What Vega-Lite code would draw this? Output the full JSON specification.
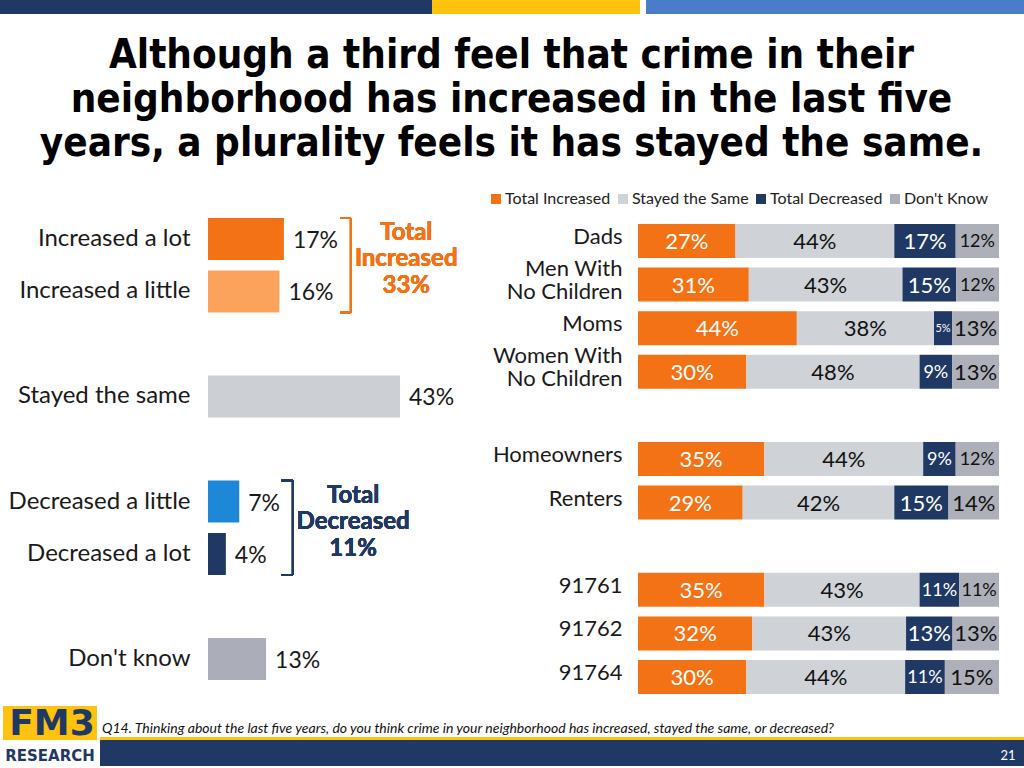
{
  "$schema": "https://vega.github.io/schema/vega-lite/v6.json",
  "padding": 0,
  "background": "white",
  "spacing": 0,
  "config": {
    "view": {"stroke": null},
    "font": "Lato",
    "axis": {"domain": false, "ticks": false, "grid": false, "labelFont": "Lato", "labelFontSize": 22, "labelColor": "#1a1a1a", "labelLimit": 220, "title": null}
  },
  "datasets": {
    "left": [
      {"cat": "Increased a lot", "pct": 0.17},
      {"cat": "Increased a little", "pct": 0.16},
      {"cat": "Stayed the same", "pct": 0.43},
      {"cat": "Decreased a little", "pct": 0.07},
      {"cat": "Decreased a lot", "pct": 0.04},
      {"cat": "Don't know", "pct": 0.13}
    ],
    "respOrder": [
      {"resp": "Total Increased", "rank": 1},
      {"resp": "Stayed the Same", "rank": 2},
      {"resp": "Total Decreased", "rank": 3},
      {"resp": "Don't Know", "rank": 4}
    ],
    "right": [
      {"group": "Dads", "resp": "Total Increased", "pct": 0.27},
      {"group": "Dads", "resp": "Stayed the Same", "pct": 0.44},
      {"group": "Dads", "resp": "Total Decreased", "pct": 0.17},
      {"group": "Dads", "resp": "Don't Know", "pct": 0.12},
      {"group": "Men With No Children", "resp": "Total Increased", "pct": 0.31},
      {"group": "Men With No Children", "resp": "Stayed the Same", "pct": 0.43},
      {"group": "Men With No Children", "resp": "Total Decreased", "pct": 0.15},
      {"group": "Men With No Children", "resp": "Don't Know", "pct": 0.12},
      {"group": "Moms", "resp": "Total Increased", "pct": 0.44},
      {"group": "Moms", "resp": "Stayed the Same", "pct": 0.38},
      {"group": "Moms", "resp": "Total Decreased", "pct": 0.05},
      {"group": "Moms", "resp": "Don't Know", "pct": 0.13},
      {"group": "Women With No Children", "resp": "Total Increased", "pct": 0.30},
      {"group": "Women With No Children", "resp": "Stayed the Same", "pct": 0.48},
      {"group": "Women With No Children", "resp": "Total Decreased", "pct": 0.09},
      {"group": "Women With No Children", "resp": "Don't Know", "pct": 0.13},
      {"group": "Homeowners", "resp": "Total Increased", "pct": 0.35},
      {"group": "Homeowners", "resp": "Stayed the Same", "pct": 0.44},
      {"group": "Homeowners", "resp": "Total Decreased", "pct": 0.09},
      {"group": "Homeowners", "resp": "Don't Know", "pct": 0.12},
      {"group": "Renters", "resp": "Total Increased", "pct": 0.29},
      {"group": "Renters", "resp": "Stayed the Same", "pct": 0.42},
      {"group": "Renters", "resp": "Total Decreased", "pct": 0.15},
      {"group": "Renters", "resp": "Don't Know", "pct": 0.14},
      {"group": "91761", "resp": "Total Increased", "pct": 0.35},
      {"group": "91761", "resp": "Stayed the Same", "pct": 0.43},
      {"group": "91761", "resp": "Total Decreased", "pct": 0.11},
      {"group": "91761", "resp": "Don't Know", "pct": 0.11},
      {"group": "91762", "resp": "Total Increased", "pct": 0.32},
      {"group": "91762", "resp": "Stayed the Same", "pct": 0.43},
      {"group": "91762", "resp": "Total Decreased", "pct": 0.13},
      {"group": "91762", "resp": "Don't Know", "pct": 0.13},
      {"group": "91764", "resp": "Total Increased", "pct": 0.30},
      {"group": "91764", "resp": "Stayed the Same", "pct": 0.44},
      {"group": "91764", "resp": "Total Decreased", "pct": 0.11},
      {"group": "91764", "resp": "Don't Know", "pct": 0.15}
    ]
  },
  "vconcat": [
    {
      "width": 816,
      "height": 36,
      "data": {"values": [{}]},
      "layer": [
        {
          "mark": {"type": "rect", "color": "#1F3864"},
          "encoding": {
            "x": {"datum": 0, "type": "quantitative", "scale": {"domain": [208, 1024], "nice": false, "zero": false}, "axis": null},
            "x2": {"datum": 432},
            "y": {"datum": 0, "type": "quantitative", "scale": {"domain": [0, 36], "reverse": true, "nice": false}, "axis": null},
            "y2": {"datum": 14}
          }
        },
        {
          "mark": {"type": "rect", "color": "#FFC20E"},
          "encoding": {
            "x": {"datum": 432, "type": "quantitative"},
            "x2": {"datum": 640},
            "y": {"datum": 0, "type": "quantitative"},
            "y2": {"datum": 14}
          }
        },
        {
          "mark": {"type": "rect", "color": "#4A7CC9"},
          "encoding": {
            "x": {"datum": 646, "type": "quantitative"},
            "x2": {"datum": 1024},
            "y": {"datum": 0, "type": "quantitative"},
            "y2": {"datum": 14}
          }
        }
      ]
    },
    {
      "title": {
        "text": ["Although a third feel that crime in their", "neighborhood has increased in the last five", "years, a plurality feels it has stayed the same."],
        "font": "DejaVu Sans Condensed",
        "fontSize": 40,
        "fontWeight": "bold",
        "color": "#000000",
        "lineHeight": 44,
        "anchor": "middle",
        "dx": 12,
        "offset": 27
      },
      "bounds": "flush",
      "spacing": 180,
      "hconcat": [
        {
          "width": 250,
          "height": 472,
          "data": {"name": "left"},
          "layer": [
            {
              "mark": {"type": "bar"},
              "encoding": {
                "y": {
                  "field": "cat", "type": "nominal",
                  "scale": {"domain": ["Increased a lot", "Increased a little", " ", "Stayed the same", "  ", "Decreased a little", "Decreased a lot", "   ", "Don't know"], "paddingInner": 0.2, "paddingOuter": 0.095},
                  "axis": {"labelPadding": 18, "labelFontSize": 24, "labelLimit": 205, "minExtent": 208, "maxExtent": 208}
                },
                "x": {"field": "pct", "type": "quantitative", "scale": {"domain": [0, 0.56], "nice": false}, "axis": null},
                "color": {
                  "field": "cat", "type": "nominal",
                  "scale": {"domain": ["Increased a lot", "Increased a little", "Stayed the same", "Decreased a little", "Decreased a lot", "Don't know"], "range": ["#F47216", "#FBA35C", "#CCCFD4", "#1E88D8", "#1F3864", "#ABADB8"]},
                  "legend": null
                }
              }
            },
            {
              "mark": {"type": "text", "align": "left", "baseline": "middle", "dx": 9, "dy": 2, "fontSize": 23, "color": "#1a1a1a"},
              "encoding": {
                "y": {"field": "cat", "type": "nominal"},
                "x": {"field": "pct", "type": "quantitative"},
                "text": {"field": "pct", "type": "quantitative", "format": ".0%"}
              }
            },
            {
              "mark": {"type": "rule", "color": "#F47216", "strokeWidth": 2},
              "encoding": {
                "x": {"datum": 0.32, "type": "quantitative"},
                "y": {"datum": "Increased a lot", "type": "nominal", "bandPosition": 0},
                "y2": {"datum": "Increased a little", "bandPosition": 1}
              }
            },
            {
              "mark": {"type": "rule", "color": "#F47216", "strokeWidth": 2},
              "encoding": {
                "x": {"datum": 0.296, "type": "quantitative"},
                "x2": {"datum": 0.32},
                "y": {"datum": "Increased a lot", "type": "nominal", "bandPosition": 0}
              }
            },
            {
              "mark": {"type": "rule", "color": "#F47216", "strokeWidth": 2},
              "encoding": {
                "x": {"datum": 0.296, "type": "quantitative"},
                "x2": {"datum": 0.32},
                "y": {"datum": "Increased a little", "type": "nominal", "bandPosition": 1}
              }
            },
            {
              "mark": {"type": "text", "align": "center", "baseline": "middle", "dy": -27, "fontSize": 24, "fontWeight": "bold", "lineHeight": 26.5, "color": "#F47216"},
              "encoding": {
                "x": {"datum": 0.444, "type": "quantitative"},
                "y": {"datum": "Increased a lot", "type": "nominal", "bandPosition": 1},
                "text": {"value": ["Total", "Increased", "33%"]}
              }
            },
            {
              "mark": {"type": "rule", "color": "#1F3864", "strokeWidth": 2},
              "encoding": {
                "x": {"datum": 0.19, "type": "quantitative"},
                "y": {"datum": "Decreased a little", "type": "nominal", "bandPosition": 0},
                "y2": {"datum": "Decreased a lot", "bandPosition": 1}
              }
            },
            {
              "mark": {"type": "rule", "color": "#1F3864", "strokeWidth": 2},
              "encoding": {
                "x": {"datum": 0.164, "type": "quantitative"},
                "x2": {"datum": 0.19},
                "y": {"datum": "Decreased a little", "type": "nominal", "bandPosition": 0}
              }
            },
            {
              "mark": {"type": "rule", "color": "#1F3864", "strokeWidth": 2},
              "encoding": {
                "x": {"datum": 0.164, "type": "quantitative"},
                "x2": {"datum": 0.19},
                "y": {"datum": "Decreased a lot", "type": "nominal", "bandPosition": 1}
              }
            },
            {
              "mark": {"type": "text", "align": "center", "baseline": "middle", "dy": -27, "fontSize": 24, "fontWeight": "bold", "lineHeight": 26.5, "color": "#1F3864"},
              "encoding": {
                "x": {"datum": 0.325, "type": "quantitative"},
                "y": {"datum": "Decreased a little", "type": "nominal", "bandPosition": 1},
                "text": {"value": ["Total", "Decreased", "11%"]}
              }
            }
          ]
        },
        {
          "width": 361,
          "height": 492,
          "data": {"name": "right"},
          "transform": [
            {"lookup": "resp", "from": {"data": {"name": "respOrder"}, "key": "resp", "fields": ["rank"]}}
          ],
          "encoding": {
            "y": {
              "field": "group", "type": "nominal",
              "scale": {"domain": ["Dads", "Men With No Children", "Moms", "Women With No Children", " ", "Homeowners", "Renters", "  ", "91761", "91762", "91764"], "paddingInner": 0.22, "paddingOuter": 0.252},
              "axis": {
                "labelPadding": 16, "minExtent": 150, "maxExtent": 150, "labelLineHeight": 23,
                "labelOffset": {"condition": {"test": "indexof(datum.value, 'No Children') >= 0", "value": -15.5}, "value": -4},
                "labelExpr": "datum.value == 'Men With No Children' ? ['Men With', 'No Children'] : datum.value == 'Women With No Children' ? ['Women With', 'No Children'] : datum.value"
              }
            }
          },
          "layer": [
            {
              "mark": {"type": "bar"},
              "encoding": {
                "x": {"field": "pct", "type": "quantitative", "stack": "normalize", "scale": {"domain": [0, 1], "nice": false}, "axis": null},
                "order": {"field": "rank", "type": "quantitative", "sort": "ascending"},
                "color": {
                  "field": "resp", "type": "nominal",
                  "scale": {"domain": ["Total Increased", "Stayed the Same", "Total Decreased", "Don't Know"], "range": ["#F47216", "#CFD2D7", "#1F3864", "#ADAFB9"]},
                  "legend": {"orient": "none", "legendX": -150, "legendY": -22, "direction": "horizontal", "title": null, "symbolType": "square", "symbolSize": 100, "symbolStrokeWidth": 0, "labelFontSize": 16, "labelFont": "Lato", "labelColor": "#222222", "columnPadding": 4, "labelOffset": 1}
                }
              }
            },
            {
              "mark": {"type": "text", "align": "center", "baseline": "middle", "dy": 1},
              "encoding": {
                "x": {"field": "pct", "type": "quantitative", "stack": "normalize", "bandPosition": 0.5},
                "order": {"field": "rank", "type": "quantitative", "sort": "ascending"},
                "color": {
                  "field": "resp", "type": "nominal",
                  "scale": {"domain": ["Total Increased", "Stayed the Same", "Total Decreased", "Don't Know"], "range": ["#ffffff", "#111111", "#ffffff", "#111111"]},
                  "legend": null
                },
                "text": {"field": "pct", "type": "quantitative", "format": ".0%"},
                "size": {"condition": [{"test": "datum.pct <= 0.05", "value": 11}, {"test": "datum.pct <= 0.12", "value": 18}], "value": 22}
              }
            }
          ],
          "resolve": {"scale": {"color": "independent"}, "legend": {"color": "independent"}}
        }
      ]
    },
    {
      "width": 816,
      "height": 61,
      "data": {"values": [{}]},
      "layer": [
        {
          "mark": {"type": "rect", "color": "#FFC20E"},
          "encoding": {
            "x": {"datum": 3, "type": "quantitative", "scale": {"domain": [208, 1024], "nice": false, "zero": false}, "axis": null},
            "x2": {"datum": 97},
            "y": {"datum": 1, "type": "quantitative", "scale": {"domain": [0, 61], "reverse": true, "nice": false, "zero": false}, "axis": null},
            "y2": {"datum": 35}
          }
        },
        {
          "mark": {"type": "rect", "color": "#FFC20E"},
          "encoding": {
            "x": {"datum": 100, "type": "quantitative"},
            "x2": {"datum": 1024},
            "y": {"datum": 32, "type": "quantitative"},
            "y2": {"datum": 35}
          }
        },
        {
          "mark": {"type": "rect", "color": "#1F3864"},
          "encoding": {
            "x": {"datum": 100, "type": "quantitative"},
            "x2": {"datum": 1024},
            "y": {"datum": 35, "type": "quantitative"},
            "y2": {"datum": 61}
          }
        },
        {
          "mark": {"type": "text", "align": "center", "baseline": "middle", "font": "DejaVu Sans", "fontWeight": "bold", "fontSize": 36, "color": "#1F3864"},
          "encoding": {
            "x": {"datum": 52, "type": "quantitative"},
            "y": {"datum": 19, "type": "quantitative"},
            "text": {"value": "FM3"}
          }
        },
        {
          "mark": {"type": "text", "align": "center", "baseline": "middle", "font": "DejaVu Sans", "fontWeight": "bold", "fontSize": 15, "color": "#1F3864"},
          "encoding": {
            "x": {"datum": 50, "type": "quantitative"},
            "y": {"datum": 51, "type": "quantitative"},
            "text": {"value": "RESEARCH"}
          }
        },
        {
          "mark": {"type": "text", "align": "left", "baseline": "middle", "font": "Lato", "fontStyle": "italic", "fontSize": 14, "color": "#111111"},
          "encoding": {
            "x": {"datum": 102, "type": "quantitative"},
            "y": {"datum": 24, "type": "quantitative"},
            "text": {"value": "Q14. Thinking about the last five years, do you think crime in your neighborhood has increased, stayed the same, or decreased?"}
          }
        },
        {
          "mark": {"type": "text", "align": "center", "baseline": "middle", "font": "Lato", "fontSize": 13, "color": "#ffffff"},
          "encoding": {
            "x": {"datum": 1008, "type": "quantitative"},
            "y": {"datum": 51, "type": "quantitative"},
            "text": {"value": "21"}
          }
        }
      ]
    }
  ]
}
